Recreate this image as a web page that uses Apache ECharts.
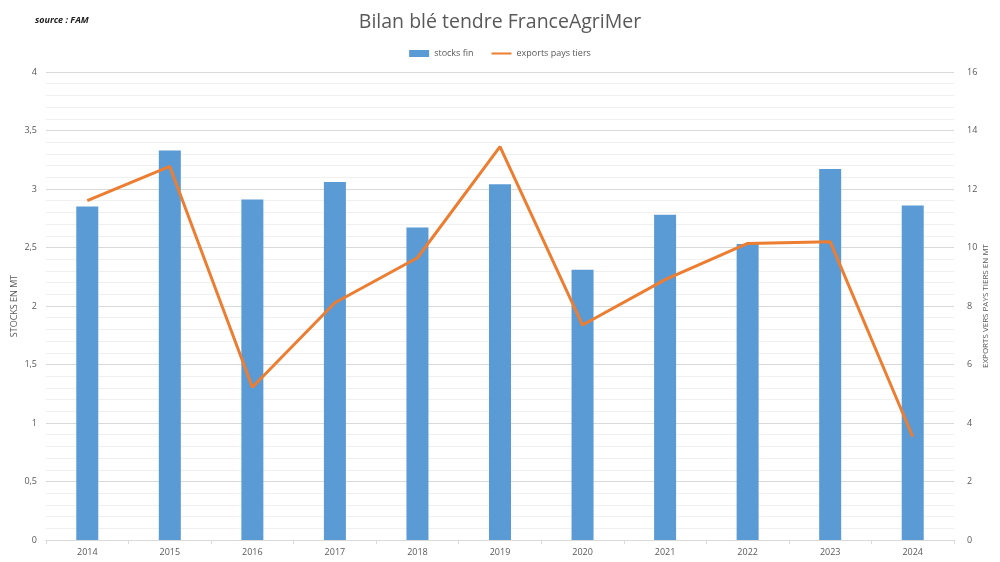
<!DOCTYPE html>
<html><head><meta charset="utf-8">
<script src="https://cdn.jsdelivr.net/npm/echarts@6/dist/echarts.min.js"></script>
<style>html,body{margin:0;padding:0;background:#fff}#c{width:1000px;height:562px}</style>
</head><body><div id="c"></div>
<script>
const years = ['2014','2015','2016','2017','2018','2019','2020','2021','2022','2023','2024'];
const stocksFin = [2.85, 3.33, 2.91, 3.06, 2.67, 3.04, 2.31, 2.78, 2.53, 3.17, 2.86];
const exportsPaysTiers = [11.6, 12.77, 5.22, 8.11, 9.65, 13.45, 7.35, 8.9, 10.14, 10.2, 3.53];
const leftTicks = {min: 0, max: 4, interval: 0.5};
const rightTicks = {min: 0, max: 16, interval: 2};

const chart = echarts.init(document.getElementById('c'), null, {renderer: 'canvas'});
const txt = '#595959';
const font = 'Open Sans';
chart.setOption({
  animation: false,
  textStyle: {fontFamily: font},
  title: [
    {text: 'Bilan blé tendre FranceAgriMer', left: 'center', top: 7,
     textStyle: {fontSize: 19.5, fontWeight: 'normal', color: txt, fontFamily: font}},
    {text: 'source : FAM', left: 30, top: 11,
     textStyle: {fontSize: 9, fontStyle: 'italic', fontWeight: 'bold', color: '#222', fontFamily: font}}
  ],
  legend: {
    top: 44, left: 'center', itemGap: 18, itemWidth: 20, itemHeight: 7,
    textStyle: {fontSize: 9, color: txt},
    data: [
      {name: 'stocks fin', icon: 'rect'},
      {name: 'exports pays tiers', icon: 'path://M0,4 L20,4 L20,6 L0,6 Z'}
    ]
  },
  grid: {left: 46, right: 46, top: 72, bottom: 22, containLabel: false, outerBoundsMode: 'none'},
  xAxis: {
    type: 'category', data: years,
    axisLine: {lineStyle: {color: '#d9d9d9'}},
    axisTick: {show: true, alignWithLabel: false, length: 4, lineStyle: {color: '#d9d9d9'}},
    axisLabel: {color: txt, fontSize: 9, margin: 8}
  },
  yAxis: [
    {
      type: 'value', min: leftTicks.min, max: leftTicks.max, interval: leftTicks.interval,
      name: 'STOCKS EN MT', nameLocation: 'middle', nameGap: 27, nameRotate: 90,
      nameMoveOverlap: false,
      nameTextStyle: {fontSize: 9, color: txt},
      axisLabel: {color: txt, fontSize: 9, margin: 9, formatter: v => String(v).replace('.', ',')},
      axisLine: {show: false}, axisTick: {show: false},
      splitLine: {lineStyle: {color: '#d9d9d9'}},
      minorTick: {show: false, splitNumber: 5},
      minorSplitLine: {show: true, lineStyle: {color: '#f0f0f0'}}
    },
    {
      type: 'value', min: rightTicks.min, max: rightTicks.max, interval: rightTicks.interval,
      name: 'EXPORTS VERS PAYS TIERS EN MT', nameLocation: 'middle', nameGap: 28, nameRotate: 90,
      nameMoveOverlap: false,
      nameTextStyle: {fontSize: 8, color: txt},
      axisLabel: {color: txt, fontSize: 9, margin: 13},
      axisLine: {show: false}, axisTick: {show: false},
      splitLine: {show: false}
    }
  ],
  series: [
    {name: 'stocks fin', type: 'bar', data: stocksFin, yAxisIndex: 0, barWidth: 22,
     itemStyle: {color: '#5B9BD5'}},
    {name: 'exports pays tiers', type: 'line', data: exportsPaysTiers, yAxisIndex: 1,
     symbol: 'none', lineStyle: {color: '#ED7D31', width: 3}, itemStyle: {color: '#ED7D31'}}
  ]
});
</script>
</body></html>
